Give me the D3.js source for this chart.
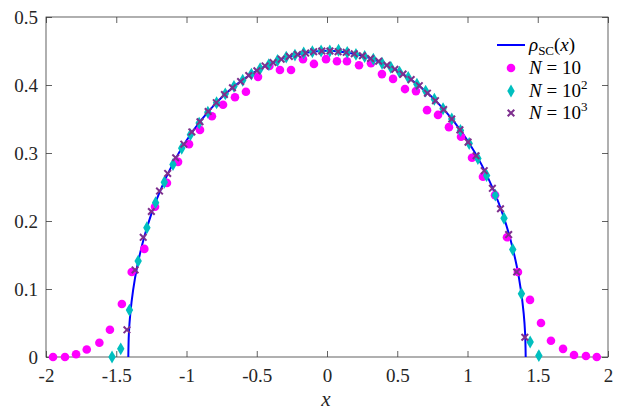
<!DOCTYPE html>
<html><head><meta charset="utf-8">
<script src="https://cdn.jsdelivr.net/npm/d3@7"></script>
</head><body style="margin:0">
<svg id="c" width="623" height="416"></svg>
<script>
const xTicks = [-2,-1.5,-1,-0.5,0,0.5,1,1.5,2];
const xTickLabels = ["-2","-1.5","-1","-0.5","0","0.5","1","1.5","2"];
const yTicks = [0,0.1,0.2,0.3,0.4,0.5];
const yTickLabels = ["0","0.1","0.2","0.3","0.4","0.5"];

const curveX = [-1.4142,-1.41,-1.40,-1.38,-1.35,-1.30,-1.25,-1.20,-1.10,-1.00,-0.90,-0.80,-0.70,-0.60,-0.50,-0.40,-0.30,-0.20,-0.10,0,
  0.10,0.20,0.30,0.40,0.50,0.60,0.70,0.80,0.90,1.00,1.10,1.20,1.25,1.30,1.35,1.38,1.40,1.41,1.4142];
const curveY = [0,0.0347,0.0637,0.0984,0.1341,0.1772,0.2105,0.2382,0.2829,0.3183,0.3472,0.3712,0.3911,0.4076,0.4211,0.4318,0.4399,0.4456,0.4490,0.4502,
  0.4490,0.4456,0.4399,0.4318,0.4211,0.4076,0.3911,0.3712,0.3472,0.3183,0.2829,0.2382,0.2105,0.1772,0.1341,0.0984,0.0637,0.0347,0];

const n10X = [-1.95,-1.865,-1.786,-1.71,-1.62,-1.545,-1.46,-1.39,-1.30,-1.224,-1.139,-1.06,-0.982,-0.904,-0.819,-0.74,-0.655,-0.577,-0.491,-0.41,-0.335,-0.256,-0.171,-0.093,-0.007,0.071,0.142,0.228,0.313,0.391,0.470,0.555,0.633,0.712,0.790,0.868,0.954,1.032,1.110,1.196,1.281,1.359,1.445,1.523,1.594,1.68,1.758,1.843,1.92];
const n10Y = [0,0,0.004,0.011,0.021,0.040,0.078,0.125,0.159,0.221,0.256,0.287,0.313,0.334,0.354,0.371,0.382,0.390,0.412,0.428,0.422,0.422,0.438,0.431,0.438,0.435,0.435,0.429,0.432,0.416,0.409,0.394,0.391,0.363,0.356,0.338,0.324,0.293,0.265,0.238,0.176,0.125,0.084,0.050,0.024,0.012,0.003,0.0015,0];

const n100X = [-1.530,-1.468,-1.406,-1.344,-1.282,-1.220,-1.158,-1.096,-1.034,-0.972,-0.910,-0.848,-0.786,-0.724,-0.662,-0.600,-0.538,-0.476,-0.414,-0.352,-0.290,-0.228,-0.166,-0.104,-0.042,
  0.020,0.082,0.144,0.206,0.268,0.330,0.392,0.454,0.516,0.578,0.640,0.702,0.764,0.826,0.888,0.950,1.012,1.074,1.136,1.198,1.260,1.322,1.384,1.446,1.508];
const n100Y = [0.0,0.012,0.069,0.141,0.190,0.227,0.257,0.283,0.307,0.327,0.344,0.360,0.374,0.387,0.398,0.407,0.416,0.424,0.430,0.436,0.441,0.444,0.447,0.449,0.450,
  0.450,0.451,0.448,0.445,0.442,0.438,0.432,0.426,0.419,0.411,0.401,0.391,0.379,0.365,0.350,0.333,0.314,0.292,0.267,0.238,0.204,0.158,0.093,0.022,0.002];

const n1000X = [-1.424,-1.366,-1.308,-1.250,-1.192,-1.134,-1.077,-1.019,-0.962,-0.904,-0.846,-0.788,-0.730,-0.673,-0.615,-0.557,-0.499,-0.441,-0.384,-0.326,-0.268,-0.210,-0.152,-0.095,-0.037,
  0.021,0.079,0.137,0.194,0.252,0.310,0.368,0.426,0.483,0.541,0.599,0.657,0.715,0.772,0.830,0.888,0.946,1.004,1.061,1.119,1.177,1.235,1.293,1.350,1.408];
const n1000Y = [0.040,0.128,0.176,0.214,0.244,0.270,0.293,0.313,0.331,0.346,0.361,0.374,0.386,0.396,0.405,0.414,0.421,0.428,0.433,0.438,0.442,0.445,0.447,0.449,0.450,
  0.450,0.449,0.448,0.446,0.443,0.439,0.435,0.429,0.423,0.416,0.408,0.399,0.388,0.377,0.364,0.350,0.334,0.316,0.296,0.274,0.248,0.218,0.180,0.125,0.029];

const L = 46, R = 608, T = 17, B = 357;
const svg = d3.select("#c");
const x = d3.scaleLinear().domain([-2,2]).range([L,R]);
const y = d3.scaleLinear().domain([0,0.5]).range([B,T]);

const axCol = "#3a3a3a";
function styleAxis(g){
  g.attr("font-family", null).attr("font-size", null);
  g.select(".domain").remove();
  g.selectAll("line").attr("stroke", axCol).attr("stroke-width", 0.8);
  g.selectAll("text").attr("font-size", 19).attr("fill", "#262626");
}
svg.append("g").attr("transform",`translate(0,${B})`)
  .call(d3.axisBottom(x).tickValues(xTicks).tickFormat((d,i)=>xTickLabels[i]).tickSizeInner(-6).tickSizeOuter(0).tickPadding(12))
  .call(styleAxis);
svg.append("g").attr("transform",`translate(0,${T})`)
  .call(d3.axisTop(x).tickValues(xTicks).tickFormat("").tickSizeInner(-6).tickSizeOuter(0))
  .call(styleAxis);
svg.append("g").attr("transform",`translate(${L},0)`)
  .call(d3.axisLeft(y).tickValues(yTicks).tickFormat((d,i)=>yTickLabels[i]).tickSizeInner(-6).tickSizeOuter(0).tickPadding(8))
  .call(styleAxis);
svg.append("g").attr("transform",`translate(${R},0)`)
  .call(d3.axisRight(y).tickValues(yTicks).tickFormat("").tickSizeInner(-6).tickSizeOuter(0))
  .call(styleAxis);
svg.append("rect").attr("x",L).attr("y",T).attr("width",R-L).attr("height",B-T)
  .attr("fill","none").attr("stroke",axCol).attr("stroke-width",0.8);

svg.append("text").attr("x",(L+R)/2 - 1).attr("y",406).attr("text-anchor","middle")
  .attr("font-style","italic").attr("font-size",21).attr("fill","#262626").text("x");

const plot = svg.append("g");
const curveData = curveX.map((v,i)=>[v,curveY[i]]);
plot.append("path").datum(curveData)
  .attr("d", d3.line().x(d=>x(d[0])).y(d=>y(d[1])).curve(d3.curveCatmullRom.alpha(0.5)))
  .attr("fill","none").attr("stroke","#0000ff").attr("stroke-width",2);

const MAG = "#ff00ff", CYA = "#00bfbf", PUR = "#7e2f8e";
plot.selectAll("circle.n10").data(n10X.map((v,i)=>[v,n10Y[i]])).join("circle")
  .attr("cx",d=>x(d[0])).attr("cy",d=>y(d[1])).attr("r",4.3).attr("fill",MAG);

const diamond = d3.symbol().type(d3.symbolDiamond).size(48);
plot.selectAll("path.n100").data(n100X.map((v,i)=>[v,n100Y[i]])).join("path").attr("class","n100")
  .attr("transform",d=>`translate(${x(d[0])},${y(d[1])})`).attr("d",diamond()).attr("fill",CYA);

const cr = 3.3;
const crossG = plot.selectAll("g.n1000").data(n1000X.map((v,i)=>[v,n1000Y[i]])).join("g").attr("class","n1000")
  .attr("transform",d=>`translate(${x(d[0])},${y(d[1])})`);
crossG.append("path").attr("d",`M${-cr},${-cr}L${cr},${cr}M${-cr},${cr}L${cr},${-cr}`)
  .attr("stroke",PUR).attr("stroke-width",2).attr("fill","none");

const lg = svg.append("g").attr("fill","#000");
const lx0 = 497, lx1 = 525, mx = 511, tx = 529;
const rows = [45, 68, 91, 113];
lg.append("line").attr("x1",lx0).attr("x2",lx1).attr("y1",rows[0]).attr("y2",rows[0]).attr("stroke","#0000ff").attr("stroke-width",2);
lg.append("circle").attr("cx",mx).attr("cy",rows[1]).attr("r",4.3).attr("fill",MAG);
lg.append("path").attr("transform",`translate(${mx},${rows[2]})`).attr("d",diamond()).attr("fill",CYA);
lg.append("path").attr("transform",`translate(${mx},${rows[3]})`).attr("d",`M${-cr},${-cr}L${cr},${cr}M${-cr},${cr}L${cr},${-cr}`).attr("stroke",PUR).attr("stroke-width",2);

const t0 = lg.append("text").attr("x",tx).attr("y",rows[0]+6).attr("font-size",19);
t0.append("tspan").attr("font-style","italic").text("ρ");
t0.append("tspan").attr("font-size",13).attr("dy",4).text("SC");
t0.append("tspan").attr("dy",-4).text("(");
t0.append("tspan").attr("font-style","italic").text("x");
t0.append("tspan").text(")");

const legN = [["10",""],["10","2"],["10","3"]];
legN.forEach((p,i)=>{
  const t = lg.append("text").attr("x",tx).attr("y",rows[i+1]+6).attr("font-size",19);
  t.append("tspan").attr("font-style","italic").text("N");
  t.append("tspan").text(" = " + p[0]);
  if(p[1]) t.append("tspan").attr("font-size",13).attr("dy",-8).text(p[1]);
});
</script>
</body></html>
